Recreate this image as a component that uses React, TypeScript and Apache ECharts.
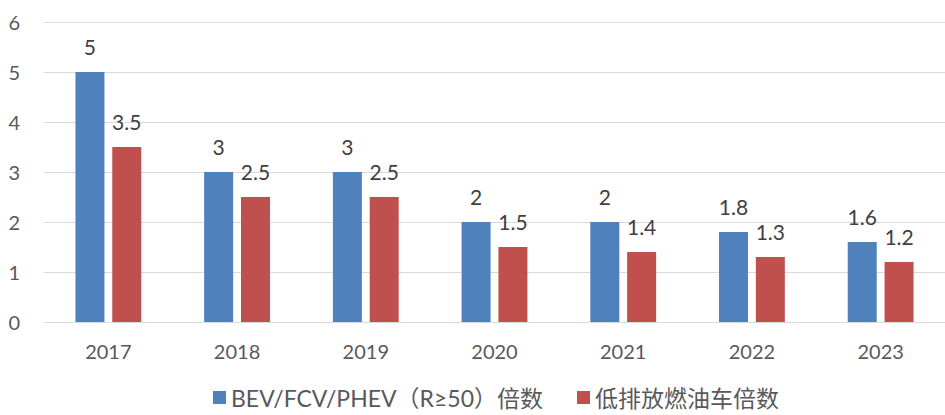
import React, { useEffect, useRef } from "react";
import * as echarts from "echarts";

const categories = ["2017", "2018", "2019", "2020", "2021", "2022", "2023"];
const evValues = [5, 3, 3, 2, 2, 1.8, 1.6];
const iceValues = [3.5, 2.5, 2.5, 1.5, 1.4, 1.3, 1.2];
const seriesNames = ["BEV/FCV/PHEV（R≥50）倍数", "低排放燃油车倍数"];

export default function App() {
  const ref = useRef<HTMLDivElement>(null);
  useEffect(() => {
    if (!ref.current) return;
    const chart = echarts.init(ref.current, undefined, { renderer: "svg" });
    const font = "Lato, 'Noto Sans CJK SC', sans-serif";
    const label = {
      show: true,
      position: "top" as const,
      distance: 15,
      color: "#404040",
      fontSize: 21,
      fontFamily: font,
    };
    chart.setOption({
      animation: false,
      grid: { left: 44, right: 0, top: 22, bottom: 93 },
      legend: {
        bottom: 1,
        left: 208,
        itemWidth: 13,
        itemHeight: 13,
        itemGap: 34,
        icon: "rect",
        textStyle: { color: "#595959", fontSize: 23, fontFamily: font },
      },
      xAxis: {
        type: "category",
        data: categories,
        axisLine: { lineStyle: { color: "#d9d9d9", width: 1 } },
        axisTick: { show: false },
        axisLabel: { color: "#595959", fontSize: 20, fontFamily: font, margin: 19 },
      },
      yAxis: {
        type: "value",
        min: 0,
        max: 6,
        interval: 1,
        axisLine: { show: false },
        axisTick: { show: false },
        splitLine: { lineStyle: { color: "#d9d9d9", width: 1 } },
        axisLabel: { color: "#595959", fontSize: 20, fontFamily: font, margin: 24 },
      },
      series: [
        {
          name: seriesNames[0],
          type: "bar",
          data: evValues,
          barWidth: 29,
          barGap: "27%",
          itemStyle: { color: "#4f81bd" },
          label,
        },
        {
          name: seriesNames[1],
          type: "bar",
          data: iceValues,
          barWidth: 29,
          itemStyle: { color: "#c0504d" },
          label,
        },
      ],
    });
    return () => chart.dispose();
  }, []);
  return <div ref={ref} style={{ width: 945, height: 415, position: "absolute", left: 0, top: 0 }} />;
}
